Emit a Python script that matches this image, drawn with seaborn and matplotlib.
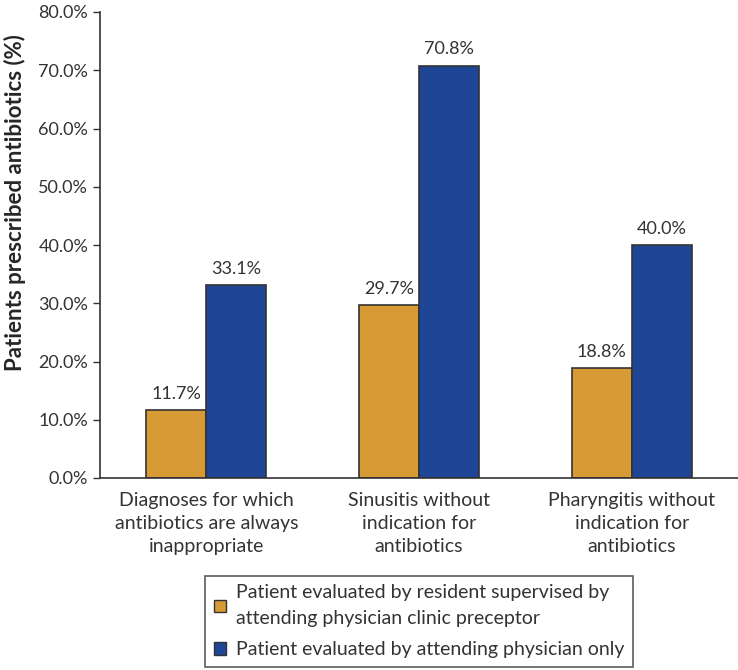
import matplotlib
matplotlib.use("Agg")
import matplotlib.pyplot as plt
import seaborn as sns
import pandas as pd
from matplotlib.ticker import FuncFormatter

categories = ["Diagnoses for which\nantibiotics are always\ninappropriate",
              "Sinusitis without\nindication for\nantibiotics",
              "Pharyngitis without\nindication for\nantibiotics"]
series_names = ["Patient evaluated by resident supervised by\nattending physician clinic preceptor",
                "Patient evaluated by attending physician only"]
resident_vals = [11.7, 29.7, 18.8]
attending_vals = [33.1, 70.8, 40.0]
colors = ["#D89A35", "#1F4696"]

df = pd.DataFrame({
    "cat": categories * 2,
    "series": [series_names[0]] * 3 + [series_names[1]] * 3,
    "val": resident_vals + attending_vals,
})

sns.set_style("white")
plt.rcParams['font.family'] = ['Lato', 'DejaVu Sans']
plt.rcParams['text.color'] = '#333333'

fig = plt.figure(figsize=(7.38, 6.70), dpi=100)
ax = fig.add_axes([100/738, 1 - 478/670, 638/738, 466/670])

sns.barplot(data=df, x="cat", y="val", hue="series", palette=colors,
            width=0.565, edgecolor="#333333", linewidth=1.2, ax=ax,
            saturation=1, legend=True)

for cont in ax.containers:
    ax.bar_label(cont, labels=[f"{v:.1f}%" for v in cont.datavalues],
                 padding=6, fontsize=13, color="#333333")

ax.set_xlim(-0.5, 2.5)
ax.set_ylim(0, 80)
ax.set_yticks(range(0, 81, 10))
ax.yaxis.set_major_formatter(FuncFormatter(lambda v, p: f"{v:.1f}%"))
ax.tick_params(axis='y', labelsize=13, length=5, width=1, color="#333333", left=True, labelcolor="#333333")
ax.tick_params(axis='x', labelsize=14, length=0, labelcolor="#333333", pad=10)
for t in ax.get_xticklabels():
    t.set_linespacing(1.45)
ax.set_xlabel("")
ax.set_ylabel("Patients prescribed antibiotics (%)", fontsize=16, fontweight='bold')
ax.yaxis.set_label_coords(-0.116, 0.59)
for s in ["top", "right"]:
    ax.spines[s].set_visible(False)
for s in ["left", "bottom"]:
    ax.spines[s].set_color("#333333")
    ax.spines[s].set_linewidth(1.2)

leg = ax.legend(loc="upper center", bbox_to_anchor=(419/738, 1 - 566/670),
                bbox_transform=fig.transFigure, frameon=True, fancybox=False,
                fontsize=14, handlelength=0.6, handleheight=0.6, handletextpad=0.5,
                borderpad=0.45, labelspacing=0.75)
leg.get_frame().set_edgecolor("#333333")
leg.get_frame().set_linewidth(1.2)
for t in leg.get_texts():
    t.set_linespacing(1.6)
for h in leg.legend_handles:
    h.set_edgecolor("#333333")
    h.set_linewidth(1)

fig.savefig("out.png", dpi=100)
